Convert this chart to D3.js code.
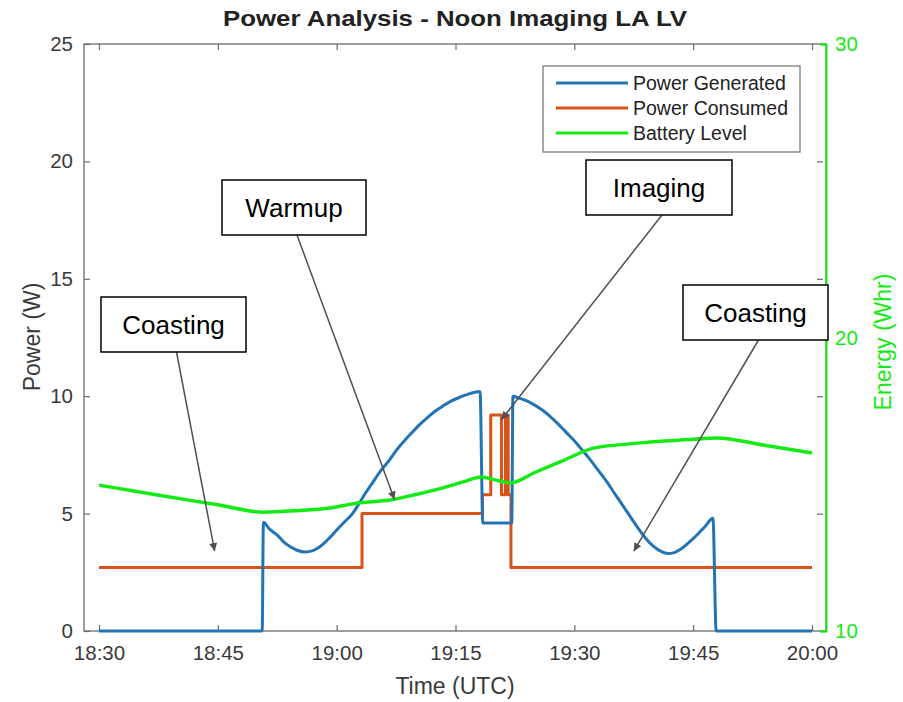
<!DOCTYPE html>
<html>
<head>
<meta charset="utf-8">
<script src="https://cdn.jsdelivr.net/npm/d3@7"></script>
<style>
  html, body { margin: 0; padding: 0; background: #fff; }
  svg { display: block; font-family: "Liberation Sans", Arial, Helvetica, sans-serif; }
</style>
</head>
<body>
<svg id="chart" width="903" height="702"></svg>
<script>
// ---------------- DATA ----------------
// time in minutes after 18:30 UTC
const xTickValues = [0, 15, 30, 45, 60, 75, 90];
const xTickLabels = ["18:30", "18:45", "19:00", "19:15", "19:30", "19:45", "20:00"];
const yLeftTicks = [0, 5, 10, 15, 20, 25];
const yRightTicks = [10, 20, 30];

const genTime  = [0, 20.6, 20.75, 21.5, 22.5, 23.3, 24.1, 25, 26, 27, 28, 29.2, 30, 31, 32, 32.6, 33.5, 34.5, 35.5, 36.7, 37.5, 38.5, 39.5, 40.5, 41.5, 42.5, 43.5, 44.5, 45.5, 46.5, 47.3, 48.1, 48.45, 52.1, 52.25, 53, 54, 55, 56, 57, 58, 59, 60, 61, 62, 63, 64, 65, 66, 67, 68, 69, 70, 71, 71.8, 72.6, 73.5, 74.5, 75.5, 76.5, 77.5, 77.9, 90];
const genPower = [0, 0, 4.63, 4.35, 4.08, 3.8, 3.6, 3.44, 3.36, 3.42, 3.62, 4.0, 4.3, 4.65, 5.0, 5.3, 5.8, 6.3, 6.8, 7.3, 7.68, 8.08, 8.45, 8.8, 9.1, 9.38, 9.6, 9.8, 9.95, 10.08, 10.16, 10.2, 4.6, 4.6, 10.0, 9.92, 9.8, 9.62, 9.4, 9.12, 8.8, 8.45, 8.1, 7.7, 7.3, 6.85, 6.4, 5.9, 5.4, 4.9, 4.4, 3.95, 3.6, 3.38, 3.3, 3.34, 3.5, 3.78, 4.1, 4.45, 4.8, 0, 0];

const conTime  = [0, 33.2, 33.2, 48.4, 48.4, 49.45, 49.45, 50.8, 50.8, 51.3, 51.3, 51.65, 51.65, 52.0, 52.0, 90];
const conPower = [2.7, 2.7, 5.0, 5.0, 5.8, 5.8, 9.2, 9.2, 5.8, 5.8, 9.2, 9.2, 5.8, 5.8, 2.7, 2.7];

const batTime  = [0, 7, 15, 20.7, 25, 29.2, 32.6, 36.7, 40, 43.3, 46, 48.3, 50, 52.0, 55, 58.2, 62.4, 66, 70, 75, 77.9, 84, 90];
const batLevel = [14.97, 14.65, 14.3, 14.05, 14.1, 14.19, 14.36, 14.46, 14.65, 14.87, 15.08, 15.25, 15.15, 15.05, 15.4, 15.76, 16.23, 16.35, 16.45, 16.53, 16.58, 16.33, 16.07];

const seriesNames = ["Power Generated", "Power Consumed", "Battery Level"];
const annotationLabels = ["Coasting", "Warmup", "Imaging", "Coasting"];
// annotation pointer targets [time, power]
const annotationTargets = [[14.6, 3.4], [37.3, 5.6], [50.8, 9.0], [67.5, 3.4]];

// ---------------- LAYOUT ----------------
const frame = { left: 84, right: 826, top: 44, bottom: 631 };
const colors = { gen: "#2274b5", con: "#d95319", bat: "#14ea14", axis: "#6b6b6b", text: "#3a3a3a", arrow: "#505050" };

const svg = d3.select("#chart");

const x = d3.scaleLinear().domain([0, 90]).range([99, 812]);
const yL = d3.scaleLinear().domain([0, 25]).range([frame.bottom, frame.top]);
const yR = d3.scaleLinear().domain([10, 30]).range([frame.bottom, frame.top]);

// frame (box)
svg.append("rect")
  .attr("x", frame.left).attr("y", frame.top)
  .attr("width", frame.right - frame.left).attr("height", frame.bottom - frame.top)
  .attr("fill", "none").attr("stroke", colors.axis).attr("stroke-width", 1.3);

// X axis bottom
const xAxis = d3.axisBottom(x).tickValues(xTickValues)
  .tickFormat((d, i) => xTickLabels[i]).tickSize(-6).tickPadding(14);
const gx = svg.append("g").attr("transform", `translate(0,${frame.bottom})`).call(xAxis);
gx.select(".domain").remove();
gx.selectAll("line").attr("stroke", colors.axis).attr("stroke-width", 1.2);
gx.selectAll("text").attr("fill", colors.text).style("font-size", "20.5px");

// X ticks top
const gxt = svg.append("g").attr("transform", `translate(0,${frame.top})`)
  .call(d3.axisTop(x).tickValues(xTickValues).tickFormat("").tickSize(-6));
gxt.select(".domain").remove();
gxt.selectAll("line").attr("stroke", colors.axis).attr("stroke-width", 1.2);

// Y left axis
const gyl = svg.append("g").attr("transform", `translate(${frame.left},0)`)
  .call(d3.axisLeft(yL).tickValues(yLeftTicks).tickSize(-6).tickPadding(11));
gyl.select(".domain").remove();
gyl.selectAll("line").attr("stroke", colors.axis).attr("stroke-width", 1.2);
gyl.selectAll("text").attr("fill", colors.text).style("font-size", "20.5px");

// mirrored left ticks on the right side
const gylr = svg.append("g").attr("transform", `translate(${frame.right - 3},0)`)
  .call(d3.axisRight(yL).tickValues(yLeftTicks.slice(1, -1)).tickFormat("").tickSize(-6));
gylr.select(".domain").remove();
gylr.selectAll("line").attr("stroke", colors.axis).attr("stroke-width", 1.2);

// Y right axis (green)
const gyr = svg.append("g").attr("transform", `translate(${frame.right},0)`)
  .call(d3.axisRight(yR).tickValues(yRightTicks).tickSize(-6).tickPadding(9));
gyr.select(".domain").attr("stroke", colors.bat).attr("stroke-width", 2);
gyr.selectAll("line").attr("stroke", colors.bat).attr("stroke-width", 1.5);
gyr.selectAll("text").attr("fill", colors.bat).style("font-size", "20.5px");

// data lines
const lineL = d3.line().x(d => x(d[0])).y(d => yL(d[1]));
const lineSmooth = d3.line().x(d => x(d[0])).y(d => yL(d[1])).curve(d3.curveMonotoneX);
const lineR = d3.line().x(d => x(d[0])).y(d => yR(d[1])).curve(d3.curveMonotoneX);

svg.append("path").datum(conTime.map((t, i) => [t, conPower[i]]))
  .attr("d", lineL).attr("fill", "none").attr("stroke", colors.con).attr("stroke-width", 3).attr("stroke-linejoin", "round");
svg.append("path").datum(genTime.map((t, i) => [t, genPower[i]]))
  .attr("d", lineSmooth).attr("fill", "none").attr("stroke", colors.gen).attr("stroke-width", 3).attr("stroke-linejoin", "round");
svg.append("path").datum(batTime.map((t, i) => [t, batLevel[i]]))
  .attr("d", lineR).attr("fill", "none").attr("stroke", colors.bat).attr("stroke-width", 3.5).attr("stroke-linejoin", "round");

// title and axis labels
svg.append("text").attr("x", 455).attr("y", 26).attr("text-anchor", "middle")
  .attr("font-weight", "bold").style("font-size", "22px").attr("fill", "#222")
  .attr("textLength", 464).attr("lengthAdjust", "spacingAndGlyphs")
  .text("Power Analysis - Noon Imaging LA LV");
svg.append("text").attr("x", 455).attr("y", 694).attr("text-anchor", "middle")
  .style("font-size", "23px").attr("fill", colors.text).text("Time (UTC)");
svg.append("text").attr("transform", "translate(40,337) rotate(-90)").attr("text-anchor", "middle")
  .style("font-size", "23px").attr("fill", colors.text).text("Power (W)");
svg.append("text").attr("transform", "translate(891,342) rotate(-90)").attr("text-anchor", "middle")
  .style("font-size", "23px").attr("fill", colors.bat).text("Energy (Whr)");

// legend
const legend = svg.append("g");
legend.append("rect").attr("x", 543).attr("y", 66).attr("width", 257).attr("height", 86)
  .attr("fill", "#fff").attr("stroke", "#7a7a7a").attr("stroke-width", 1.3);
const legColors = [colors.gen, colors.con, colors.bat];
seriesNames.forEach((name, i) => {
  const yy = 83 + i * 25;
  legend.append("line").attr("x1", 556).attr("x2", 628).attr("y1", yy).attr("y2", yy)
    .attr("stroke", legColors[i]).attr("stroke-width", 3);
  legend.append("text").attr("x", 633).attr("y", yy + 7).style("font-size", "19.5px")
    .attr("fill", "#222").text(name);
});

// annotations
svg.append("defs").append("marker").attr("id", "arr")
  .attr("viewBox", "0 0 10 10").attr("refX", 10).attr("refY", 5)
  .attr("markerWidth", 10).attr("markerHeight", 8).attr("markerUnits", "userSpaceOnUse")
  .attr("orient", "auto")
  .append("path").attr("d", "M0,0 L10,5 L0,10 z").attr("fill", colors.arrow);

const boxes = [
  { x: 101, y: 297, w: 145, h: 55 },
  { x: 222, y: 180, w: 144, h: 55 },
  { x: 586, y: 160, w: 146, h: 55 },
  { x: 683, y: 285, w: 145, h: 55 }
];
annotationLabels.forEach((lab, i) => {
  const b = boxes[i];
  const tgt = annotationTargets[i];
  const sx = b.x + b.w / 2 + 3, sy = b.y + b.h;
  svg.append("line").attr("x1", sx).attr("y1", sy)
    .attr("x2", x(tgt[0])).attr("y2", yL(tgt[1]))
    .attr("stroke", colors.arrow).attr("stroke-width", 1.5).attr("marker-end", "url(#arr)");
  svg.append("rect").attr("x", b.x).attr("y", b.y).attr("width", b.w).attr("height", b.h)
    .attr("fill", "#fff").attr("stroke", "#000").attr("stroke-width", 1.5);
  svg.append("text").attr("x", b.x + b.w / 2).attr("y", b.y + b.h / 2 + 9)
    .attr("text-anchor", "middle").style("font-size", "26px").attr("fill", "#000").text(lab);
});
</script>
</body>
</html>
